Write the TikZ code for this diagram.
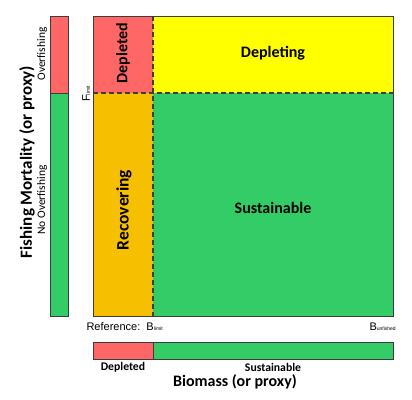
\documentclass[tikz,border=0pt]{standalone}
\usepackage{fontspec}
\setmainfont{Carlito}
\newfontfamily\arialfont{Liberation Sans}
\definecolor{zred}{RGB}{255,102,102}
\definecolor{zyellow}{RGB}{255,255,0}
\definecolor{zorange}{RGB}{246,192,0}
\definecolor{zgreen}{RGB}{51,204,102}
\definecolor{zline}{RGB}{60,60,60}
\begin{document}
\begin{tikzpicture}[x=1pt,y=-1pt]
  \tikzset{zone/.style={inner sep=0pt,outer sep=0pt,font=\bfseries\fontsize{16}{18}\selectfont},
           small/.style={font=\fontsize{11.5}{13}\selectfont},
           under/.style={font=\bfseries\fontsize{11.7}{13}\selectfont},
           ref/.style={font=\arialfont\fontsize{11}{12}\selectfont},
           frame/.style={draw=zline,line width=1pt},
           divider/.style={draw=zline,line width=1.2pt,dash pattern=on 5pt off 3pt}}
  \useasboundingbox (0,0) rectangle (412,399);
  % main plot
  \fill[zred] (93,16) rectangle (153,93);
  \fill[zyellow] (153,16) rectangle (393,93);
  \fill[zorange] (93,93) rectangle (153,316);
  \fill[zgreen] (153,93) rectangle (393,316);
  \draw[divider] (153,16) -- (153,316);
  \draw[divider] (93,93) -- (393,93);
  \draw[frame] (93,16) rectangle (393,316);
  \node[zone,rotate=90] (depleted) at (123,53) {Depleted};
  \node[zone] (depleting) at (273,53) {Depleting};
  \node[zone,rotate=90,font=\bfseries\fontsize{17.5}{19}\selectfont] (recovering) at (124,210) {Recovering};
  \node[zone] (sustainable) at (273,208) {Sustainable};
  % fishing mortality bar
  \fill[zred] (50,16) rectangle (68,93);
  \fill[zgreen] (50,93) rectangle (68,316);
  \draw[frame] (50,16) rectangle (68,316);
  \draw[frame] (50,93) -- (68,93);
  \node[small,rotate=90] (over) at (42,54) {Overfishing};
  \node[small,rotate=90] (noover) at (42,200) {No Overfishing};
  \node[zone,rotate=90,font=\bfseries\fontsize{17}{19}\selectfont] (fmort) at (27,162) {Fishing Mortality (or proxy)};
  \node[ref,rotate=90] (flimit) at (86,94) {F{\tiny limit}};
  % biomass bar
  \fill[zred] (93,342) rectangle (153,359);
  \fill[zgreen] (153,342) rectangle (393,359);
  \draw[frame] (93,342) rectangle (393,359);
  \draw[frame] (153,342) -- (153,359);
  \node[ref,anchor=west] (blimit) at (83,327) {Reference:\ \ B{\tiny limit}};
  \node[ref,anchor=west] (bunfished) at (366,327) {B{\tiny unfished}};
  \node[under] (bdepl) at (123,367) {Depleted};
  \node[under] (bsust) at (273,367) {Sustainable};
  \node[zone] (biomass) at (235,382) {Biomass (or proxy)};
\end{tikzpicture}
\end{document}
